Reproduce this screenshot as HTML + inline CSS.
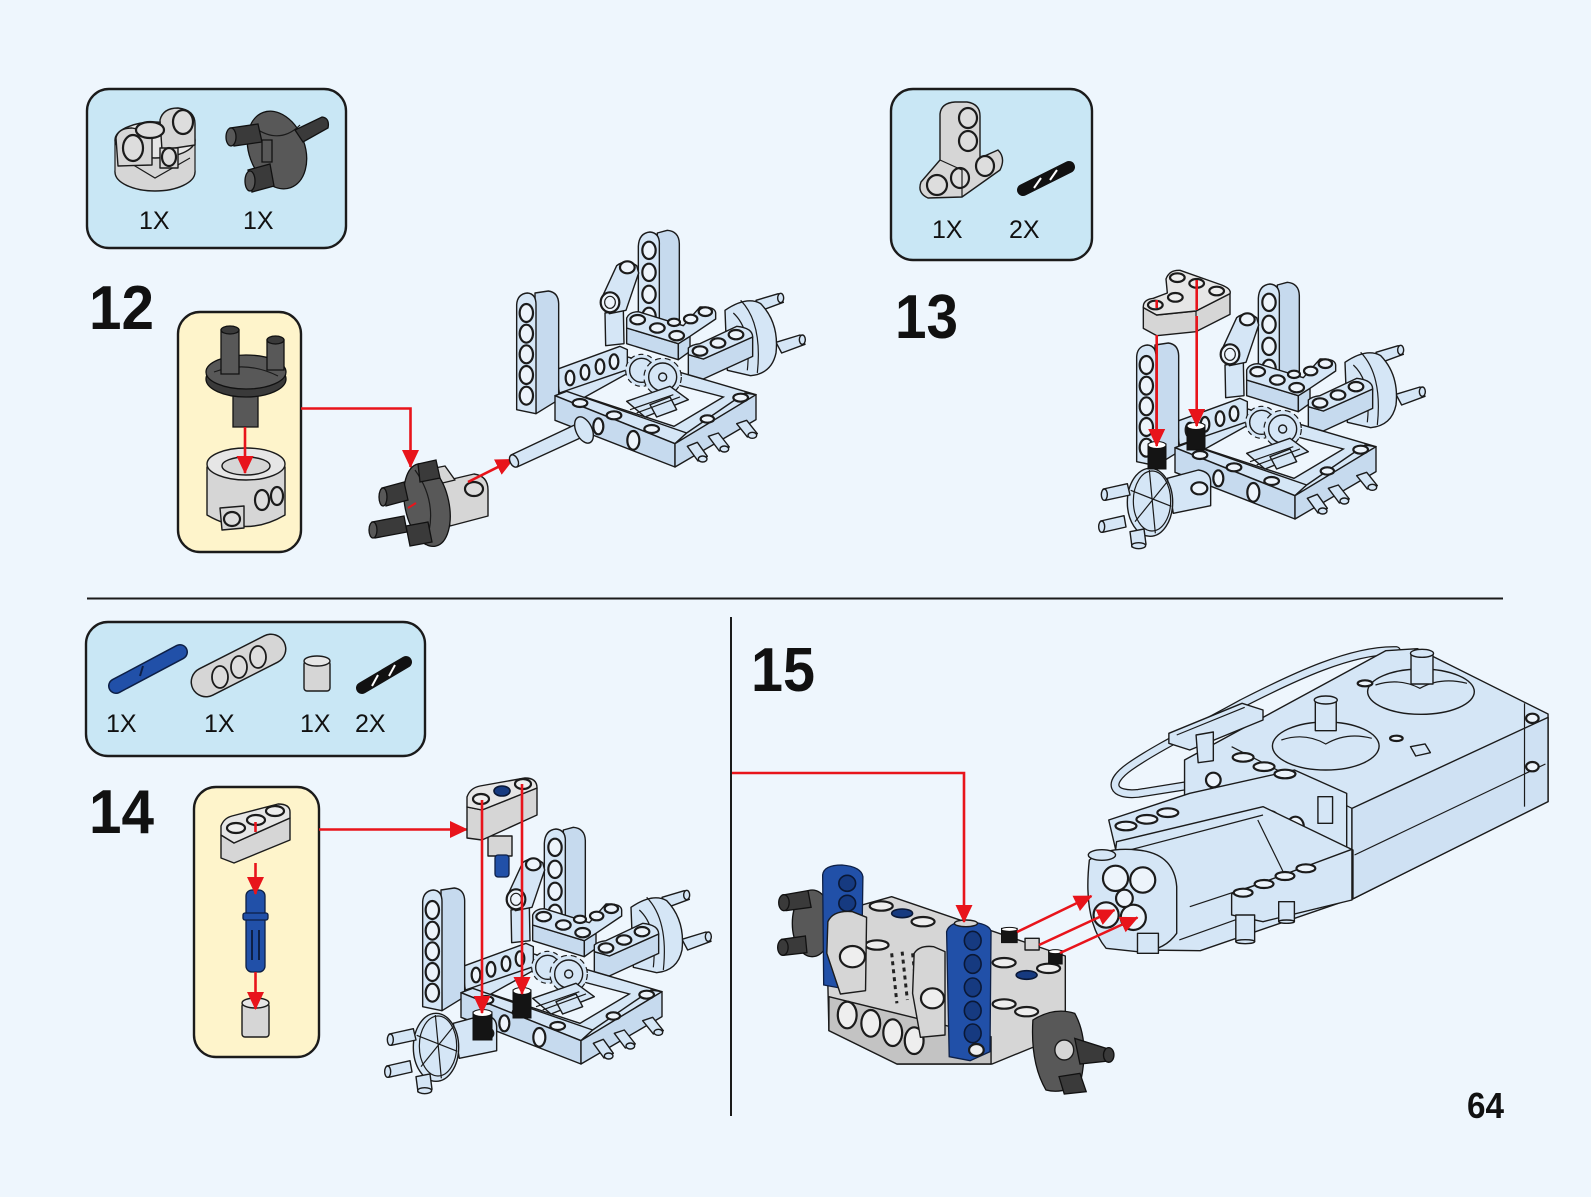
<!DOCTYPE html>
<html><head><meta charset="utf-8">
<style>
html,body{margin:0;padding:0;background:#eef6fd;}
svg{display:block}
svg *{vector-effect:non-scaling-stroke}
.lb{fill:#d5e6f6;stroke:#1b1b1b;stroke-width:1.4;stroke-linejoin:round}
.lb2{fill:#c6daee;stroke:#1b1b1b;stroke-width:1.4;stroke-linejoin:round}
.h{fill:#edf4fb;stroke:#1b1b1b;stroke-width:2.2}
.gr{fill:#d6d6d6;stroke:#1b1b1b;stroke-width:1.4;stroke-linejoin:round}
.gr2{fill:#c3c3c3;stroke:#1b1b1b;stroke-width:1.4;stroke-linejoin:round}
.grl{fill:#e6e6e6;stroke:#1b1b1b;stroke-width:1.4;stroke-linejoin:round}
.dk{fill:#585858;stroke:#111;stroke-width:1.3}
.dk2{fill:#3a3a3a;stroke:#111;stroke-width:1.3}
.bl{fill:#2150a8;stroke:#0d1f45;stroke-width:1.3}
.blh{fill:#163a80;stroke:#0a1836;stroke-width:1.6}
.bk{fill:#141414;stroke:#111;stroke-width:1}
.wt{fill:#fff;stroke:#111;stroke-width:1}
.ln{fill:none;stroke:#1b1b1b;stroke-width:1.2}
.bgf{fill:#eef6fd;stroke:#1b1b1b;stroke-width:1.4}
.gear{fill:#d5e6f6;stroke:#1b1b1b;stroke-width:1.2}
.ar{stroke:#e8141b;stroke-width:2.6;fill:none;marker-end:url(#ah)}
.rl{stroke:#e8141b;stroke-width:2.6;fill:none}
.box{fill:#c9e7f5;stroke:#1b1b1b;stroke-width:2.4}
.ybox{fill:#fef4cb;stroke:#1b1b1b;stroke-width:2.4}
.qty{font-family:"Liberation Sans",Arial,sans-serif;font-size:25px;fill:#111}
.num{font-family:"Liberation Sans",Arial,sans-serif;font-weight:bold;font-size:62px;fill:#111}
</style></head>
<body>
<svg width="1591" height="1197" viewBox="0 0 1591 1197" xmlns="http://www.w3.org/2000/svg">
<defs>
<marker id="ah" markerWidth="20" markerHeight="18" refX="17" refY="9" orient="auto" markerUnits="userSpaceOnUse">
<path d="M0,0.5 L18,9 L0,17.5 Z" fill="#e8141b"/>
</marker>

<g id="ch">
 <path class="lb" d="M858,262 L925,242 L940,268 L875,292 Z"/>
 <ellipse class="lb" cx="932" cy="255" rx="9" ry="14"/>
 <path class="lb" d="M918,388 L990,366 L1005,394 L935,420 Z"/>
 <ellipse class="lb" cx="997" cy="380" rx="9" ry="14"/>
 <path class="lb" d="M765,292 Q830,248 872,272 Q928,330 918,420 Q905,482 842,488 L772,472 Z"/>
 <path class="ln" d="M812,262 Q878,330 862,480"/>
 <path class="ln" d="M790,300 Q845,350 832,472"/>
 <path class="lb2" d="M562,60 L592,52 Q627,55 628,92 L628,392 L562,410 Z"/>
 <path class="lb" d="M505,100 Q507,60 540,57 Q570,60 568,96 L568,410 L505,402 Z"/>
 <ellipse class="h" cx="537" cy="112" rx="20" ry="26"/>
 <ellipse class="h" cx="537" cy="178" rx="20" ry="26"/>
 <ellipse class="h" cx="537" cy="244" rx="20" ry="26"/>
 <ellipse class="h" cx="537" cy="310" rx="20" ry="26"/>
 <path class="lb" d="M255,548 L460,428 L858,545 L615,692 Z"/>
 <path class="lb" d="M258,470 L450,400 L472,410 L472,470 L268,540 Z"/>
 <ellipse class="h" cx="300" cy="495" rx="13" ry="22"/>
 <ellipse class="h" cx="345" cy="478" rx="13" ry="22"/>
 <ellipse class="h" cx="390" cy="461" rx="13" ry="22"/>
 <ellipse class="h" cx="432" cy="446" rx="13" ry="22"/>
 <path class="bgf" d="M345,552 L478,478 L760,552 L612,640 Z"/>
 <circle class="gear" cx="515" cy="472" r="48" stroke-dasharray="5 4" stroke-width="3"/>
 <circle class="lb" cx="515" cy="472" r="36"/>
 <circle class="gear" cx="578" cy="492" r="56" stroke-dasharray="6 4" stroke-width="3"/>
 <circle class="lb" cx="578" cy="492" r="42"/>
 <circle class="lb" cx="578" cy="492" r="12"/>
 <path class="lb" d="M470,565 L600,520 L655,560 L525,612 Z"/>
 <path class="lb" d="M540,575 L600,552 L620,590 L560,612 Z"/>
 <path class="ln" d="M480,590 L610,545 M500,600 L630,552"/>
 <path class="lb" d="M405,300 L460,290 L462,392 L407,398 Z"/>
 <path class="lb" d="M392,262 L440,158 Q468,136 500,158 L506,180 L468,292 L418,302 Z"/>
 <ellipse class="h" cx="420" cy="268" rx="28" ry="30"/>
 <ellipse class="ln" cx="420" cy="268" rx="16" ry="18"/>
 <ellipse class="h" cx="472" cy="163" rx="22" ry="18"/>
 <path class="lb2" d="M470,345 L625,392 L625,440 L470,392 Z"/>
 <path class="lb2" d="M625,392 L660,370 L660,415 L625,440 Z"/>
 <path class="lb" d="M470,345 L470,315 Q478,296 505,296 L640,338 L690,282 Q735,280 737,300 L737,318 L660,370 L625,392 Z"/>
 <ellipse class="h" cx="503" cy="320" rx="22" ry="14"/>
 <ellipse class="h" cx="562" cy="345" rx="22" ry="14"/>
 <ellipse class="h" cx="620" cy="368" rx="22" ry="14"/>
 <ellipse class="h" cx="662" cy="318" rx="20" ry="13"/>
 <ellipse class="h" cx="706" cy="296" rx="20" ry="13"/>
 <ellipse class="h" cx="612" cy="328" rx="18" ry="11"/>
 <path class="lb2" d="M655,425 L700,438 L848,372 L848,430 L700,498 L655,485 Z"/>
 <path class="lb" d="M655,425 L655,405 Q665,395 690,392 L800,340 Q848,345 848,372 L700,438 Z"/>
 <ellipse class="h" cx="690" cy="414" rx="22" ry="14"/>
 <ellipse class="h" cx="744" cy="390" rx="22" ry="14"/>
 <ellipse class="h" cx="798" cy="365" rx="22" ry="14"/>
 <path class="lb2" d="M195,240 L235,234 Q265,238 266,272 L266,560 L198,602 Z"/>
 <path class="lb" d="M140,275 Q142,243 172,240 Q198,242 198,275 L198,602 L140,590 Z"/>
 <ellipse class="h" cx="169" cy="300" rx="20" ry="27"/>
 <ellipse class="h" cx="169" cy="362" rx="20" ry="27"/>
 <ellipse class="h" cx="169" cy="424" rx="20" ry="27"/>
 <ellipse class="h" cx="169" cy="486" rx="20" ry="27"/>
 <ellipse class="h" cx="169" cy="548" rx="20" ry="27"/>
 <path class="lb" d="M255,548 L290,535 L650,660 L615,692 Z"/>
 <path class="lb2" d="M255,548 L615,692 L615,762 L255,622 Z"/>
 <path class="lb" d="M615,692 L650,660 L825,540 L858,545 Z"/>
 <path class="lb2" d="M615,692 L858,545 L858,620 L615,762 Z"/>
 <ellipse class="h" cx="330" cy="570" rx="22" ry="12"/>
 <ellipse class="h" cx="432" cy="607" rx="22" ry="12"/>
 <ellipse class="h" cx="545" cy="648" rx="22" ry="12"/>
 <ellipse class="h" cx="812" cy="554" rx="22" ry="12"/>
 <ellipse class="h" cx="712" cy="618" rx="20" ry="11"/>
 <ellipse class="h" cx="490" cy="682" rx="18" ry="28"/>
 <ellipse class="h" cx="385" cy="640" rx="15" ry="24"/>
 <path class="lb" d="M652,700 L682,688 L712,730 L684,744 Z"/>
 <ellipse class="lb" cx="698" cy="738" rx="13" ry="9"/>
 <path class="lb" d="M715,670 L745,660 L778,702 L748,714 Z"/>
 <ellipse class="lb" cx="763" cy="708" rx="13" ry="9"/>
 <path class="lb" d="M800,632 L830,622 L862,662 L832,672 Z"/>
 <ellipse class="lb" cx="847" cy="667" rx="13" ry="9"/>
</g>

<g id="hub">
 <path class="lb" d="M232,640 L325,615 Q362,620 362,652 L362,722 L250,745 Z"/>
 <ellipse class="h" cx="328" cy="670" rx="24" ry="18"/>
 <ellipse class="lb" cx="180" cy="712" rx="68" ry="102"/>
 <ellipse class="ln" cx="186" cy="708" rx="56" ry="90"/>
 <path class="ln" d="M178,615 L196,805 M122,676 L244,724 M135,770 L232,650"/>
 <path class="lb" d="M40,672 L112,656 L120,690 L46,706 Z"/>
 <ellipse class="lb" cx="43" cy="689" rx="9" ry="17"/>
 <path class="lb" d="M32,768 L102,752 L108,786 L38,802 Z"/>
 <ellipse class="lb" cx="35" cy="785" rx="9" ry="17"/>
 <path class="lb" d="M120,800 L162,792 L168,838 L126,846 Z"/>
 <ellipse class="lb" cx="146" cy="842" rx="21" ry="9"/>
</g>
</defs>

<rect x="0" y="0" width="1591" height="1197" fill="#eef6fd"/>

<line x1="87" y1="598.5" x2="1503" y2="598.5" stroke="#1b1b1b" stroke-width="2"/>
<line x1="731" y1="617" x2="731" y2="1116" stroke="#1b1b1b" stroke-width="2"/>

<!-- STEP 12 -->
<rect class="box" x="87" y="89" width="259" height="159" rx="22"/>
<g>
 <ellipse class="gr" cx="155" cy="172" rx="40" ry="19"/>
 <rect x="115" y="140" width="80" height="32" fill="#d6d6d6"/>
 <line x1="115" y1="140" x2="115" y2="172" stroke="#1b1b1b" stroke-width="1.2"/>
 <line x1="195" y1="140" x2="195" y2="172" stroke="#1b1b1b" stroke-width="1.2"/>
 <ellipse class="grl" cx="155" cy="140" rx="40" ry="18"/>
 <path class="ln" d="M125,160 L155,178 L190,158"/>
 <path class="gr" d="M160,120 Q163,108 178,108 Q195,110 195,124 L195,145 L162,150 Z"/>
 <ellipse class="h" cx="183" cy="122" rx="10" ry="12" style="fill:#ddd"/>
 <path class="gr" d="M116,138 Q118,128 132,128 L152,132 L152,165 L118,166 Z"/>
 <ellipse class="h" cx="133" cy="148" rx="10" ry="13" style="fill:#ddd"/>
 <ellipse class="h" cx="150" cy="130" rx="14" ry="8" style="fill:#ddd"/>
 <rect class="gr" x="160" y="148" width="18" height="20"/>
 <ellipse class="h" cx="169" cy="157" rx="7" ry="9" style="fill:#ddd"/>
</g>
<g>
 <ellipse class="dk" cx="277" cy="150" rx="28" ry="40" transform="rotate(-20 277 150)"/>
 <path class="ln" d="M255,128 Q280,145 300,125" stroke="#222"/>
 <path class="dk2" d="M295,130 L322,117 Q330,118 328,128 L303,142 Z"/>
 <path class="dk2" d="M230,128 L258,124 L262,142 L234,146 Z"/>
 <ellipse class="dk" cx="231" cy="137" rx="5" ry="9"/>
 <path class="dk2" d="M248,170 L270,164 L274,186 L252,192 Z"/>
 <ellipse class="dk" cx="250" cy="181" rx="5" ry="10"/>
 <rect class="dk" x="262" y="140" width="10" height="22"/>
</g>
<text class="qty" x="139" y="229">1X</text>
<text class="qty" x="243" y="229">1X</text>

<text class="num" x="89" y="329" textLength="65" lengthAdjust="spacingAndGlyphs">12</text>

<rect class="ybox" x="178" y="312" width="123" height="240" rx="22"/>
<g>
 <rect class="dk" x="233" y="385" width="25" height="42"/>
 <ellipse class="dk2" cx="246" cy="379" rx="40" ry="18"/>
 <ellipse class="dk" cx="246" cy="372" rx="40" ry="17"/>
 <path class="ln" d="M214,372 Q246,360 278,376" stroke="#222"/>
 <rect class="dk" x="221" y="330" width="18" height="44"/>
 <ellipse class="dk2" cx="230" cy="330" rx="9" ry="4"/>
 <rect class="dk" x="267" y="340" width="17" height="30"/>
 <ellipse class="dk2" cx="275.5" cy="340" rx="8.5" ry="4"/>
 <path class="gr" d="M207,467 L207,515 Q246,538 285,515 L285,467 Z"/>
 <ellipse class="grl" cx="246" cy="464" rx="39" ry="16"/>
 <ellipse class="gr" cx="246" cy="466" rx="24" ry="9"/>
 <ellipse class="h" cx="262" cy="500" rx="7" ry="10" style="fill:#ddd"/>
 <ellipse class="h" cx="277" cy="496" rx="6" ry="9" style="fill:#ddd"/>
 <path class="gr" d="M220,508 L244,506 L244,528 L222,530 Z"/>
 <ellipse class="h" cx="232" cy="519" rx="8" ry="7" style="fill:#ddd"/>
</g>
<line class="ar" x1="245" y1="427" x2="245" y2="473"/>

<polyline class="ar" points="301,408.5 410.5,408.5 410.5,467"/>

<g>
 <path class="gr" d="M440,482 L474,474 Q488,476 488,490 L488,516 L450,526 Z"/>
 <ellipse class="h" cx="474" cy="489" rx="9" ry="7" style="fill:#ddd"/>
 <path class="gr" d="M425,470 L445,466 L455,480 L430,486 Z"/>
 <ellipse class="dk" cx="427" cy="505" rx="22" ry="42" transform="rotate(-12 427 505)"/>
 <path class="ln" d="M415,470 Q440,505 425,545" stroke="#222"/>
 <path class="dk2" d="M382,488 L404,482 L408,500 L386,506 Z"/>
 <ellipse class="dk" cx="383" cy="497" rx="4" ry="9"/>
 <path class="dk2" d="M372,522 L404,516 L407,532 L375,538 Z"/>
 <ellipse class="dk" cx="373" cy="530" rx="4" ry="8"/>
 <path class="dk2" d="M406,526 L428,522 L432,542 L410,546 Z"/>
 <path class="dk2" d="M418,464 L436,460 L440,478 L420,482 Z"/>
 <line x1="408" y1="508" x2="416" y2="503" stroke="#e8141b" stroke-width="2"/>
</g>
<line class="ar" x1="468" y1="482" x2="513" y2="459.5"/>

<use href="#ch" transform="translate(470,213) scale(0.33333)"/>
<path class="lb" d="M511,455 L583,421 L589,434 L517,467 Z"/>
<ellipse class="lb" cx="514" cy="461" rx="4" ry="6.5" transform="rotate(-25 514 461)"/>
<ellipse class="lb" cx="584" cy="430" rx="8" ry="14" transform="rotate(-25 584 430)"/>

<!-- STEP 13 -->
<rect class="box" x="891" y="89" width="201" height="171" rx="22"/>
<g>
 <path class="gr" d="M940,114 Q941,103 955,102 L967,102 Q980,104 980,116 L980,158 L998,150 Q1006,158 1000,170 L962,197 L928,198 Q917,193 921,182 L940,160 Z"/>
 <ellipse class="h" cx="968" cy="118" rx="9" ry="10" style="fill:#ddd"/>
 <ellipse class="h" cx="968" cy="141" rx="9" ry="10" style="fill:#ddd"/>
 <ellipse class="h" cx="937" cy="185" rx="10" ry="10" style="fill:#ddd"/>
 <ellipse class="h" cx="960" cy="178" rx="9" ry="10" style="fill:#ddd"/>
 <ellipse class="h" cx="985" cy="166" rx="9" ry="10" style="fill:#ddd"/>
 <path class="ln" d="M940,160 L962,170 L962,197"/>
</g>
<line x1="1023" y1="190" x2="1069" y2="167" stroke="#111" stroke-width="12" stroke-linecap="round"/>
<line x1="1034" y1="188" x2="1041" y2="178" stroke="#fff" stroke-width="2"/>
<line x1="1050" y1="180" x2="1057" y2="170" stroke="#fff" stroke-width="2"/>
<text class="qty" x="932" y="238">1X</text>
<text class="qty" x="1009" y="238">2X</text>

<text class="num" x="895" y="338" textLength="63" lengthAdjust="spacingAndGlyphs">13</text>

<use href="#ch" transform="translate(1090,265) scale(0.33333)"/>
<use href="#hub" transform="translate(1090,265) scale(0.33333)"/>
<rect class="bk" x="1148" y="444" width="18" height="25"/>
<ellipse class="wt" cx="1157" cy="445" rx="9" ry="3.5"/>
<rect class="bk" x="1187" y="425" width="18" height="25"/>
<ellipse class="wt" cx="1196" cy="426" rx="9" ry="3.5"/>
<g transform="translate(1090,265) scale(0.33333)">
 <path class="gr" d="M160,128 L200,150 L318,138 L420,86 L420,148 L318,200 L200,212 L160,190 Z"/>
 <path class="grl" d="M160,128 Q158,104 190,100 L232,84 L228,42 Q238,14 270,16 L395,60 Q425,72 420,86 L318,138 L200,150 Z"/>
 <ellipse class="h" cx="196" cy="120" rx="22" ry="13" style="fill:#eee"/>
 <ellipse class="h" cx="256" cy="97" rx="22" ry="13" style="fill:#eee"/>
 <ellipse class="h" cx="262" cy="38" rx="22" ry="13" style="fill:#eee"/>
 <ellipse class="h" cx="320" cy="55" rx="22" ry="13" style="fill:#eee"/>
 <ellipse class="h" cx="380" cy="78" rx="22" ry="13" style="fill:#eee"/>
 <line class="ln" x1="318" y1="138" x2="318" y2="200"/>
</g>
<line class="rl" x1="1156.7" y1="300" x2="1156.7" y2="308"/>
<line class="rl" x1="1196.7" y1="280" x2="1196.7" y2="310"/>
<line class="ar" x1="1156.7" y1="335" x2="1156.7" y2="446"/>
<line class="ar" x1="1196.7" y1="316" x2="1196.7" y2="426"/>

<!-- STEP 14 -->
<rect class="box" x="86" y="622" width="339" height="134" rx="22"/>
<line x1="116" y1="686" x2="180" y2="652" stroke="#0d1f45" stroke-width="16" stroke-linecap="round"/>
<line x1="116" y1="686" x2="180" y2="652" stroke="#2150a8" stroke-width="13" stroke-linecap="round"/>
<line x1="140" y1="676" x2="143" y2="666" stroke="#0d1f45" stroke-width="2"/>
<line x1="206" y1="682" x2="271" y2="649" stroke="#1b1b1b" stroke-width="31" stroke-linecap="round"/>
<line x1="206" y1="682" x2="271" y2="649" stroke="#d6d6d6" stroke-width="28" stroke-linecap="round"/>
<ellipse cx="220" cy="677" rx="8" ry="11" fill="#ddd" stroke="#1b1b1b" stroke-width="1.8"/>
<ellipse cx="239" cy="667" rx="8" ry="11" fill="#ddd" stroke="#1b1b1b" stroke-width="1.8"/>
<ellipse cx="258" cy="657" rx="8" ry="11" fill="#ddd" stroke="#1b1b1b" stroke-width="1.8"/>
<rect class="gr" x="304" y="661" width="26" height="30" rx="3"/>
<ellipse class="grl" cx="317" cy="661" rx="13" ry="5"/>
<line x1="362" y1="688" x2="406" y2="662" stroke="#111" stroke-width="12" stroke-linecap="round"/>
<line x1="372" y1="686" x2="378" y2="675" stroke="#fff" stroke-width="2"/>
<line x1="389" y1="676" x2="395" y2="665" stroke="#fff" stroke-width="2"/>
<text class="qty" x="106" y="732">1X</text>
<text class="qty" x="204" y="732">1X</text>
<text class="qty" x="300" y="732">1X</text>
<text class="qty" x="355" y="732">2X</text>

<text class="num" x="89" y="833" textLength="65" lengthAdjust="spacingAndGlyphs">14</text>

<rect class="ybox" x="194" y="787" width="125" height="270" rx="22"/>
<g>
 <path class="gr" d="M221,835 L234,843 L290,818 L290,840 L234,863 L221,858 Z"/>
 <path class="grl" d="M221,835 L221,826 Q224,818 232,816 L278,804 Q290,804 290,812 L290,818 L234,843 Z"/>
 <ellipse class="h" cx="236" cy="828" rx="9" ry="5" style="fill:#eee"/>
 <ellipse class="h" cx="256" cy="820" rx="9" ry="5" style="fill:#eee"/>
 <ellipse class="h" cx="275" cy="811" rx="9" ry="5" style="fill:#eee"/>
 <rect class="bl" x="246" y="890" width="19" height="82" rx="6"/>
 <rect class="bl" x="243" y="913" width="25" height="7" rx="2"/>
 <line x1="252" y1="930" x2="252" y2="960" stroke="#0d1f45" stroke-width="2"/>
 <line x1="259" y1="930" x2="259" y2="960" stroke="#0d1f45" stroke-width="2"/>
 <rect class="gr" x="242" y="1003" width="27" height="34" rx="3"/>
 <ellipse class="grl" cx="255.5" cy="1003" rx="13.5" ry="5"/>
</g>
<line class="rl" x1="255.5" y1="822" x2="255.5" y2="832"/>
<line class="ar" x1="255.5" y1="863" x2="255.5" y2="894"/>
<line class="ar" x1="255.5" y1="972" x2="255.5" y2="1009"/>
<line class="ar" x1="319" y1="829.5" x2="467" y2="829.5"/>

<use href="#ch" transform="translate(376,810) scale(0.33333)"/>
<use href="#hub" transform="translate(376,810) scale(0.33333)"/>
<rect class="bk" x="473" y="1012" width="19" height="28"/>
<ellipse class="wt" cx="482.5" cy="1013" rx="9.5" ry="3.5"/>
<rect class="bk" x="513" y="990" width="18" height="28"/>
<ellipse class="wt" cx="522" cy="991" rx="9" ry="3.5"/>
<g>
 <rect class="gr" x="488" y="836" width="24" height="20"/>
 <rect class="bl" x="495" y="855" width="14" height="22" rx="3"/>
 <path class="gr" d="M467,807 L482,810 L537,788 L537,815 L482,840 L467,838 Z"/>
 <path class="grl" d="M467,807 L467,797 Q470,788 480,786 L525,778 Q537,778 537,788 L482,810 Z"/>
 <ellipse class="h" cx="481" cy="799" rx="8" ry="5" style="fill:#eee"/>
 <ellipse class="blh" cx="502" cy="791" rx="8" ry="5"/>
 <ellipse class="h" cx="523" cy="784" rx="8" ry="5" style="fill:#eee"/>
</g>
<line class="ar" x1="482" y1="800" x2="482" y2="1013"/>
<line class="ar" x1="522" y1="784" x2="522" y2="994"/>

<!-- STEP 15 -->
<text class="num" x="751" y="691" textLength="64" lengthAdjust="spacingAndGlyphs">15</text>

<g transform="translate(740,620) scale(0.52301,0.33333)">
 <path d="M1255,92 C1170,88 1060,170 960,250 C880,320 800,380 745,440 C700,490 712,528 762,520 L862,495" fill="none" stroke="#1b1b1b" stroke-width="9" stroke-linecap="round"/>
 <path d="M1255,92 C1170,88 1060,170 960,250 C880,320 800,380 745,440 C700,490 712,528 762,520 L862,495" fill="none" stroke="#d5e6f6" stroke-width="6.5" stroke-linecap="round"/>
 <path class="lb" d="M850,420 L1235,92 L1295,86 L1545,282 L1545,545 L1170,838 L1100,852 L850,700 Z"/>
 <path class="lb2" d="M1170,565 L1545,292 L1545,545 L1170,838 Z" style="fill:#cfe1f3"/>
 <path class="ln" d="M1175,705 L1540,432"/>
 <path class="ln" d="M940,380 L1170,565 L1170,838"/>
 <path class="ln" d="M1500,250 L1500,560"/>
 <ellipse class="lb" cx="1302" cy="215" rx="102" ry="68"/>
 <path class="ln" d="M1215,195 Q1260,172 1300,205 Q1340,170 1390,190"/>
 <ellipse class="lb" cx="1120" cy="378" rx="102" ry="72"/>
 <path class="ln" d="M1035,360 Q1080,336 1120,372 Q1160,335 1208,355"/>
 <rect class="lb" x="1283" y="100" width="42" height="92"/>
 <ellipse class="lb" cx="1304" cy="100" rx="22" ry="12"/>
 <rect class="lb" x="1100" y="240" width="40" height="92"/>
 <ellipse class="lb" cx="1120" cy="240" rx="22" ry="12"/>
 <ellipse class="h" cx="1195" cy="190" rx="14" ry="9"/>
 <ellipse class="h" cx="1255" cy="355" rx="12" ry="8"/>
 <path class="lb" d="M1282,380 L1310,372 L1320,398 L1292,408 Z"/>
 <ellipse class="h" cx="1515" cy="295" rx="12" ry="14"/>
 <ellipse class="h" cx="1515" cy="440" rx="12" ry="14"/>
 <path class="lb" d="M820,340 L960,250 L1000,270 L1000,300 L860,390 L820,370 Z"/>
 <path class="ln" d="M835,345 L965,262"/>
 <path class="lb" d="M872,345 L905,336 L905,422 L876,428 Z"/>
 <path class="lb" d="M705,600 L860,520 L1060,450 L1160,520 L1160,700 L720,700 Z"/>
 <ellipse class="h" cx="738" cy="618" rx="20" ry="13"/>
 <ellipse class="h" cx="778" cy="598" rx="20" ry="13"/>
 <ellipse class="h" cx="818" cy="578" rx="20" ry="13"/>
 <ellipse class="h" cx="962" cy="412" rx="20" ry="13"/>
 <ellipse class="h" cx="1002" cy="440" rx="20" ry="13"/>
 <ellipse class="h" cx="1042" cy="462" rx="20" ry="13"/>
 <ellipse class="h" cx="1008" cy="585" rx="18" ry="13"/>
 <ellipse class="h" cx="1062" cy="620" rx="16" ry="30"/>
 <ellipse class="h" cx="905" cy="480" rx="14" ry="22"/>
 <rect class="lb" x="1105" y="530" width="28" height="80"/>
 <path class="lb" d="M720,665 L1000,560 L1172,690 L1172,835 L880,992 L770,990 L705,870 Z"/>
 <path class="ln" d="M745,690 L1000,585 M840,960 L1160,780 M860,860 L1150,710 M990,600 L1040,760"/>
 <path class="lb" d="M940,822 L1170,688 L1170,840 L1000,905 L940,885 Z"/>
 <ellipse class="h" cx="962" cy="818" rx="18" ry="12"/>
 <ellipse class="h" cx="1002" cy="792" rx="18" ry="12"/>
 <ellipse class="h" cx="1042" cy="768" rx="18" ry="12"/>
 <ellipse class="h" cx="1082" cy="745" rx="18" ry="12"/>
 <rect class="lb" x="948" y="885" width="36" height="80"/>
 <ellipse class="lb" cx="966" cy="965" rx="18" ry="6"/>
 <rect class="lb" x="1030" y="845" width="30" height="60"/>
 <ellipse class="lb" cx="1045" cy="905" rx="15" ry="5"/>
 <path class="lb" d="M668,720 Q700,680 760,690 Q830,700 835,800 L835,940 Q810,995 760,995 L700,985 Q655,900 668,720 Z"/>
 <ellipse class="lb" cx="692" cy="705" rx="26" ry="16"/>
 <ellipse class="h" cx="718" cy="775" rx="24" ry="38"/>
 <ellipse class="h" cx="770" cy="780" rx="24" ry="38"/>
 <ellipse class="h" cx="700" cy="885" rx="24" ry="38"/>
 <ellipse class="h" cx="752" cy="892" rx="24" ry="38"/>
 <ellipse class="h" cx="735" cy="835" rx="16" ry="26"/>
 <rect class="lb" x="760" y="940" width="40" height="60"/>
 <ellipse class="dk" cx="138" cy="910" rx="38" ry="100"/>
 <path class="dk2" d="M82,825 L130,812 L136,862 L88,872 Z"/>
 <ellipse class="dk2" cx="84" cy="848" rx="10" ry="24"/>
 <path class="dk2" d="M80,958 L125,948 L128,998 L84,1006 Z"/>
 <ellipse class="dk2" cx="82" cy="982" rx="10" ry="24"/>
 <path class="gr" d="M165,885 L290,830 L622,1008 L622,1242 L482,1332 L300,1332 L170,1232 Z"/>
 <path class="gr2" d="M170,1130 L480,1250 L480,1332 L300,1332 L170,1232 Z"/>
 <ellipse class="h" cx="205" cy="1185" rx="18" ry="40" style="fill:#eee"/>
 <ellipse class="h" cx="250" cy="1210" rx="18" ry="40" style="fill:#eee"/>
 <ellipse class="h" cx="292" cy="1238" rx="18" ry="40" style="fill:#eee"/>
 <ellipse class="h" cx="333" cy="1262" rx="18" ry="40" style="fill:#eee"/>
 <ellipse class="h" cx="270" cy="858" rx="22" ry="14" style="fill:#eee"/>
 <ellipse class="blh" cx="310" cy="880" rx="20" ry="13"/>
 <ellipse class="h" cx="350" cy="905" rx="22" ry="14" style="fill:#eee"/>
 <ellipse class="h" cx="262" cy="975" rx="22" ry="14" style="fill:#eee"/>
 <ellipse class="h" cx="505" cy="1028" rx="22" ry="14" style="fill:#eee"/>
 <ellipse class="blh" cx="548" cy="1065" rx="20" ry="13"/>
 <ellipse class="h" cx="590" cy="1045" rx="22" ry="14" style="fill:#eee"/>
 <ellipse class="h" cx="505" cy="1152" rx="22" ry="14" style="fill:#eee"/>
 <ellipse class="h" cx="548" cy="1175" rx="22" ry="14" style="fill:#eee"/>
 <path d="M290,1000 L300,1150 M310,995 L320,1140 M330,1000 L338,1120" stroke="#222" stroke-width="3" stroke-dasharray="4 4" fill="none"/>
 <path class="bl" d="M158,765 Q160,735 195,735 Q232,740 235,770 L232,1085 L195,1105 L160,1095 Z"/>
 <ellipse class="blh" cx="205" cy="790" rx="16" ry="24"/>
 <ellipse class="blh" cx="205" cy="850" rx="16" ry="24"/>
 <path class="gr" d="M168,905 Q178,870 215,875 L242,892 L240,1112 L192,1122 L166,1000 Z"/>
 <ellipse class="h" cx="215" cy="1010" rx="24" ry="32" style="fill:#eee"/>
 <path class="gr" d="M333,1000 Q343,975 370,980 L392,995 L392,1245 L345,1252 L330,1120 Z"/>
 <ellipse class="h" cx="368" cy="1135" rx="22" ry="30" style="fill:#eee"/>
 <path class="bl" d="M395,935 Q400,905 435,905 Q478,910 480,935 L478,1295 L440,1322 L400,1310 Z"/>
 <ellipse class="blh" cx="445" cy="962" rx="16" ry="28"/>
 <ellipse class="blh" cx="445" cy="1032" rx="16" ry="28"/>
 <ellipse class="blh" cx="445" cy="1102" rx="16" ry="28"/>
 <ellipse class="blh" cx="445" cy="1172" rx="16" ry="28"/>
 <ellipse class="blh" cx="445" cy="1240" rx="16" ry="28"/>
 <ellipse class="h" cx="452" cy="1290" rx="14" ry="18" style="fill:#eee"/>
 <ellipse class="gr" cx="432" cy="910" rx="22" ry="10"/>
 <path class="dk" d="M560,1200 Q600,1160 640,1180 Q668,1260 652,1380 Q622,1425 585,1410 Q555,1330 560,1200 Z"/>
 <ellipse class="gr" cx="620" cy="1290" rx="18" ry="30"/>
 <path class="dk2" d="M640,1255 L700,1285 L710,1322 L650,1332 Z"/>
 <ellipse class="dk2" cx="705" cy="1305" rx="10" ry="22"/>
 <path class="dk2" d="M610,1370 L650,1360 L662,1415 L620,1422 Z"/>
 <rect class="bk" x="500" y="925" width="30" height="43"/>
 <ellipse class="wt" cx="515" cy="928" rx="15" ry="6"/>
 <rect class="gr" x="545" y="955" width="27" height="35"/>
 <rect class="bk" x="590" y="992" width="26" height="40"/>
 <ellipse class="wt" cx="603" cy="995" rx="13" ry="6"/>
</g>

<polyline class="ar" points="732,773 964,773 964,922"/>
<line class="ar" x1="1017" y1="932" x2="1091.5" y2="896"/>
<line class="ar" x1="1039" y1="945" x2="1114.5" y2="910"/>
<line class="ar" x1="1060" y1="953" x2="1137.5" y2="917.5"/>

<text x="1467" y="1118" font-family="Liberation Sans, Arial, sans-serif" font-weight="bold" font-size="36" fill="#111" textLength="37" lengthAdjust="spacingAndGlyphs">64</text>
</svg>
</body></html>
